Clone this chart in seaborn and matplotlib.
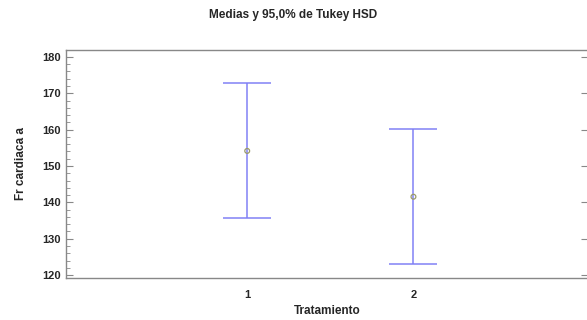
import matplotlib
matplotlib.use("Agg")
import matplotlib.pyplot as plt
from matplotlib.ticker import MultipleLocator
import seaborn as sns
import pandas as pd

# Tukey HSD means and 95% interval half-widths
tratamiento = [1, 2]
medias = [154.15, 141.55]
semiancho = [18.55, 18.55]

df = pd.DataFrame({"Tratamiento": tratamiento, "media": medias, "hw": semiancho})

sns.set_style("white")
plt.rcParams['font.family'] = ['Liberation Sans', 'DejaVu Sans']

fig = plt.figure(figsize=(5.87, 3.2), dpi=100)
ax = fig.add_axes([66 / 587, 1 - 278 / 320, 522 / 587, 228 / 320])

ax.errorbar(df["Tratamiento"], df["media"], yerr=df["hw"], fmt="none",
            ecolor="#7f7ff5", elinewidth=1.2, capsize=17, capthick=1.2, alpha=0.9)
sns.scatterplot(data=df, x="Tratamiento", y="media", ax=ax, s=12,
                facecolor="none", edgecolor="#9a9a6a", linewidth=0.9, zorder=3)

ax.set_xlim(-0.09, 3.05)
ax.set_ylim(119.2, 181.9)
ax.set_xticks(tratamiento)
ax.set_xticklabels([str(t) for t in tratamiento], fontsize=8, fontweight="bold")
ax.yaxis.set_major_locator(MultipleLocator(10))
ax.yaxis.set_minor_locator(MultipleLocator(2))
for lab in ax.get_yticklabels():
    lab.set_fontsize(8)
    lab.set_fontweight("bold")

ax.tick_params(axis="x", length=0, pad=9)
ax.tick_params(axis="y", which="major", direction="in", length=5, width=0.8,
               color="#888888", left=True, right=True, pad=4)
ax.tick_params(axis="y", which="minor", direction="in", length=3, width=0.6,
               color="#888888", left=True, right=False)

for s in ax.spines.values():
    s.set_color("#888888")
    s.set_linewidth(1.0)

ax.set_xlabel("Tratamiento", fontsize=8.5, fontweight="bold", labelpad=3)
ax.set_ylabel("Fr cardiaca a", fontsize=8.5, fontweight="bold", labelpad=11)
fig.text(0.5, 1 - 15 / 320, "Medias y 95,0% de Tukey HSD", ha="center", va="center",
         fontsize=8.5, fontweight="bold")

fig.savefig("out.png", dpi=100)
